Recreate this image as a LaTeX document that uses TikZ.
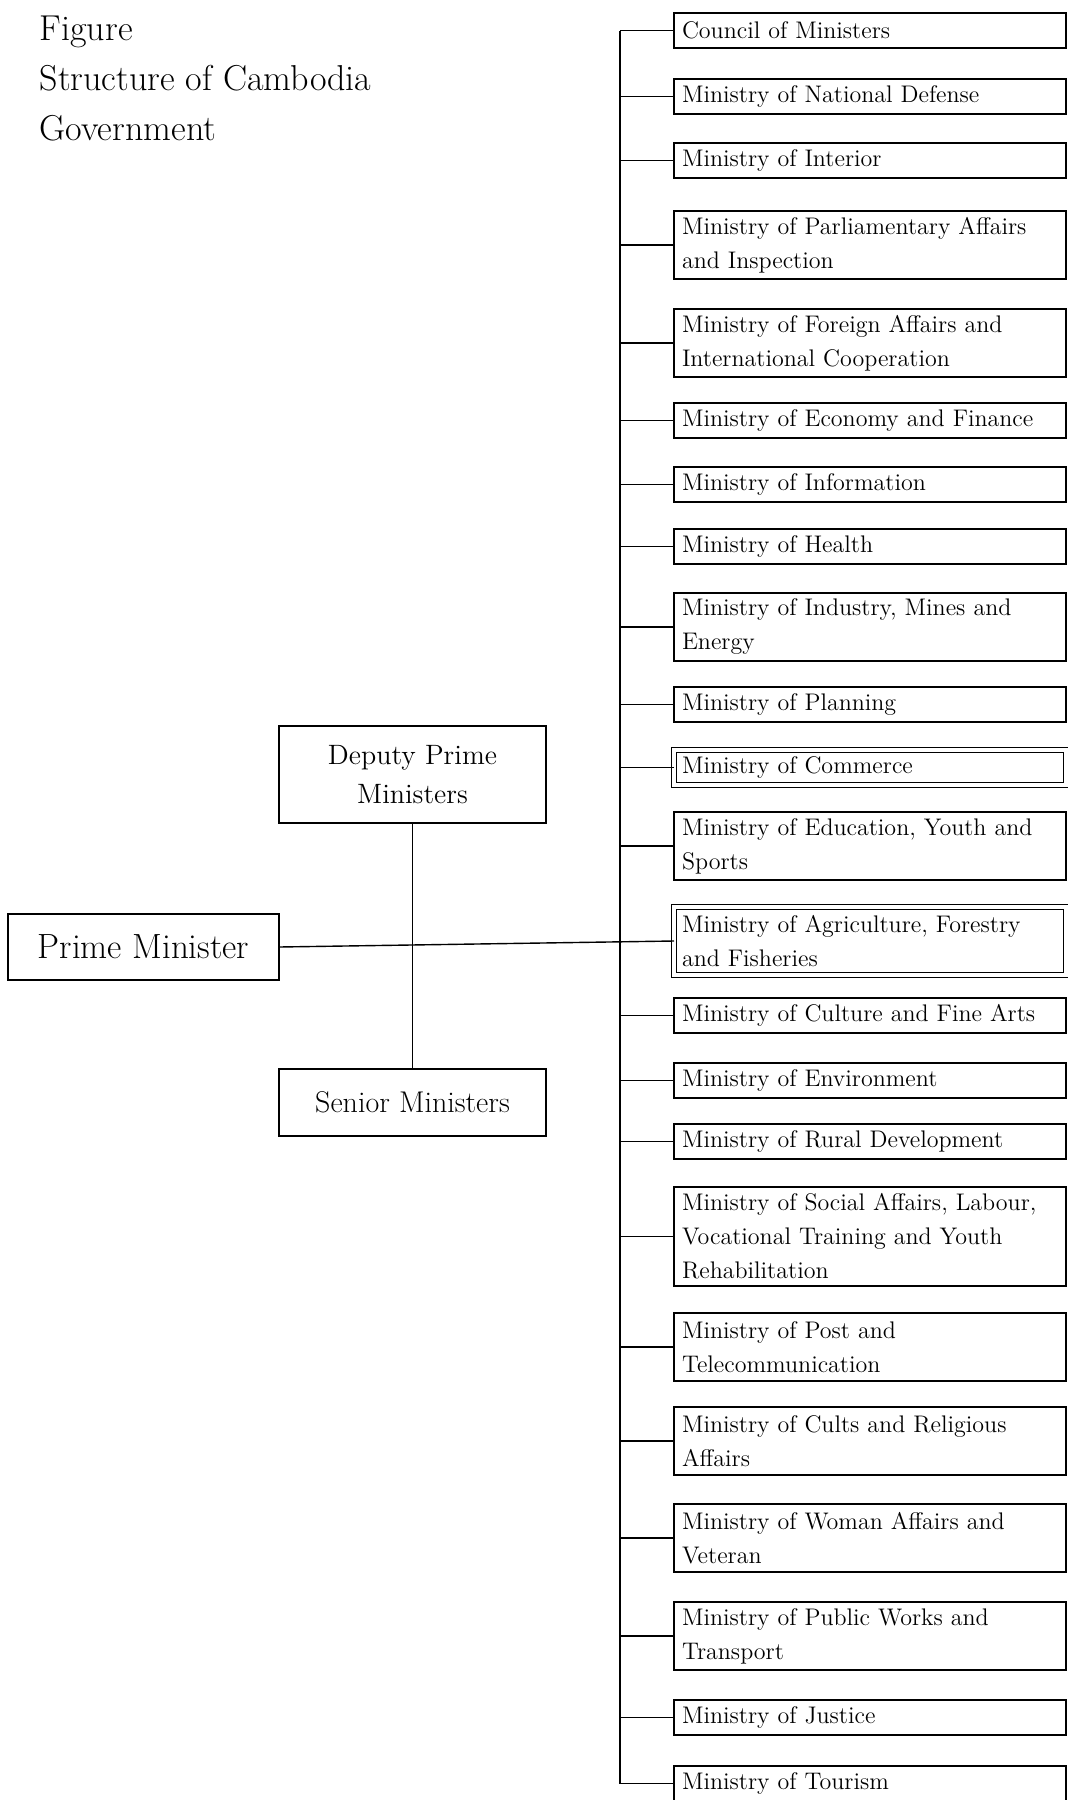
\documentclass[tikz,border=0pt]{standalone}
\usetikzlibrary{positioning}

\begin{document}
\begin{tikzpicture}[
  x=0.5pt, y=-0.5pt,
  line width=0.7pt,
  node distance=14pt,
  ministry/.style={draw, outer sep=0pt, text width=188pt, inner xsep=4pt, inner ysep=2.5pt, align=left, minimum height=17.5pt, font=\fontsize{12}{17}\selectfont},
  tworow/.style={minimum height=34pt},
  threerow/.style={minimum height=49.5pt},
  doubled/.style={double, double distance=1.6pt},
  leader/.style={draw, outer sep=0pt, align=center, font=\fontsize{14}{19.5}\selectfont},
]
\useasboundingbox (0,0) rectangle (1067,1800);

% title
\node[anchor=north west, inner sep=0pt, align=left, font=\fontsize{18}{25}\selectfont] (title) at (39,15) {Figure\\Structure of Cambodia\\Government};

% prime minister and his deputies
\node[leader, minimum width=135.5pt, minimum height=33pt, font=\fontsize{17.5}{20}\selectfont] (pm) at (143.5,947) {Prime Minister};
\node[leader, minimum width=133.5pt, minimum height=48.5pt] (dpm) at (412.5,774.5) {Deputy Prime\\Ministers};
\node[leader, minimum width=133.5pt, minimum height=33.5pt, font=\fontsize{15}{19.5}\selectfont] (snr) at (412.5,1102.5) {Senior Ministers};

% ministries
\node[ministry, anchor=north west] (m1) at (674,13) {Council of Ministers};
\node[ministry, below=15.5pt of m1] (m2) {Ministry of National Defense};
\node[ministry, below=14.5pt of m2] (m3) {Ministry of Interior};
\node[ministry, tworow, below=16.5pt of m3] (m4) {Ministry of Parliamentary Affairs\\and Inspection};
\node[ministry, tworow, below=15pt of m4] (m5) {Ministry of Foreign Affairs and\\International Cooperation};
\node[ministry, below=13pt of m5] (m6) {Ministry of Economy and Finance};
\node[ministry, below=14.5pt of m6] (m7) {Ministry of Information};
\node[ministry, below=13.5pt of m7] (m8) {Ministry of Health};
\node[ministry, tworow, below=14.5pt of m8] (m9) {Ministry of Industry, Mines and\\Energy};
\node[ministry, below=13pt of m9] (m10) {Ministry of Planning};
\node[ministry, doubled, below=of m10] (m11) {Ministry of Commerce};
\node[ministry, tworow, below=13.5pt of m11] (m12) {Ministry of Education, Youth and\\Sports};
\node[ministry, tworow, doubled, below=13.5pt of m12] (m13) {Ministry of Agriculture, Forestry\\and Fisheries};
\node[ministry, below=11.5pt of m13] (m14) {Ministry of Culture and Fine Arts};
\node[ministry, below=15pt of m14] (m15) {Ministry of Environment};
\node[ministry, below=13pt of m15] (m16) {Ministry of Rural Development};
\node[ministry, threerow, below=of m16] (m17) {Ministry of Social Affairs, Labour,\\Vocational Training and Youth\\Rehabilitation};
\node[ministry, tworow, below=13.5pt of m17] (m18) {Ministry of Post and\\Telecommunication};
\node[ministry, tworow, below=13pt of m18] (m19) {Ministry of Cults and Religious\\Affairs};
\node[ministry, tworow, below=14.5pt of m19] (m20) {Ministry of Woman Affairs and\\Veteran};
\node[ministry, tworow, below=15pt of m20] (m21) {Ministry of Public Works and\\Transport};
\node[ministry, below=15pt of m21] (m22) {Ministry of Justice};
\node[ministry, below=15.5pt of m22] (m23) {Ministry of Tourism};

% spine and branches
\coordinate (spinetop) at ([xshift=-27pt]m1.west);
\coordinate (spinebot) at (spinetop |- m23.west);
\draw (spinetop) -- (spinebot);
\foreach \i in {1,...,12}
  \draw (m\i.west) -- (m\i.west -| spinetop);
\foreach \i in {14,...,23}
  \draw (m\i.west) -- (m\i.west -| spinetop);
\draw (pm.east) -- (m13.west);
\draw (dpm) -- (snr);
\end{tikzpicture}
\end{document}
